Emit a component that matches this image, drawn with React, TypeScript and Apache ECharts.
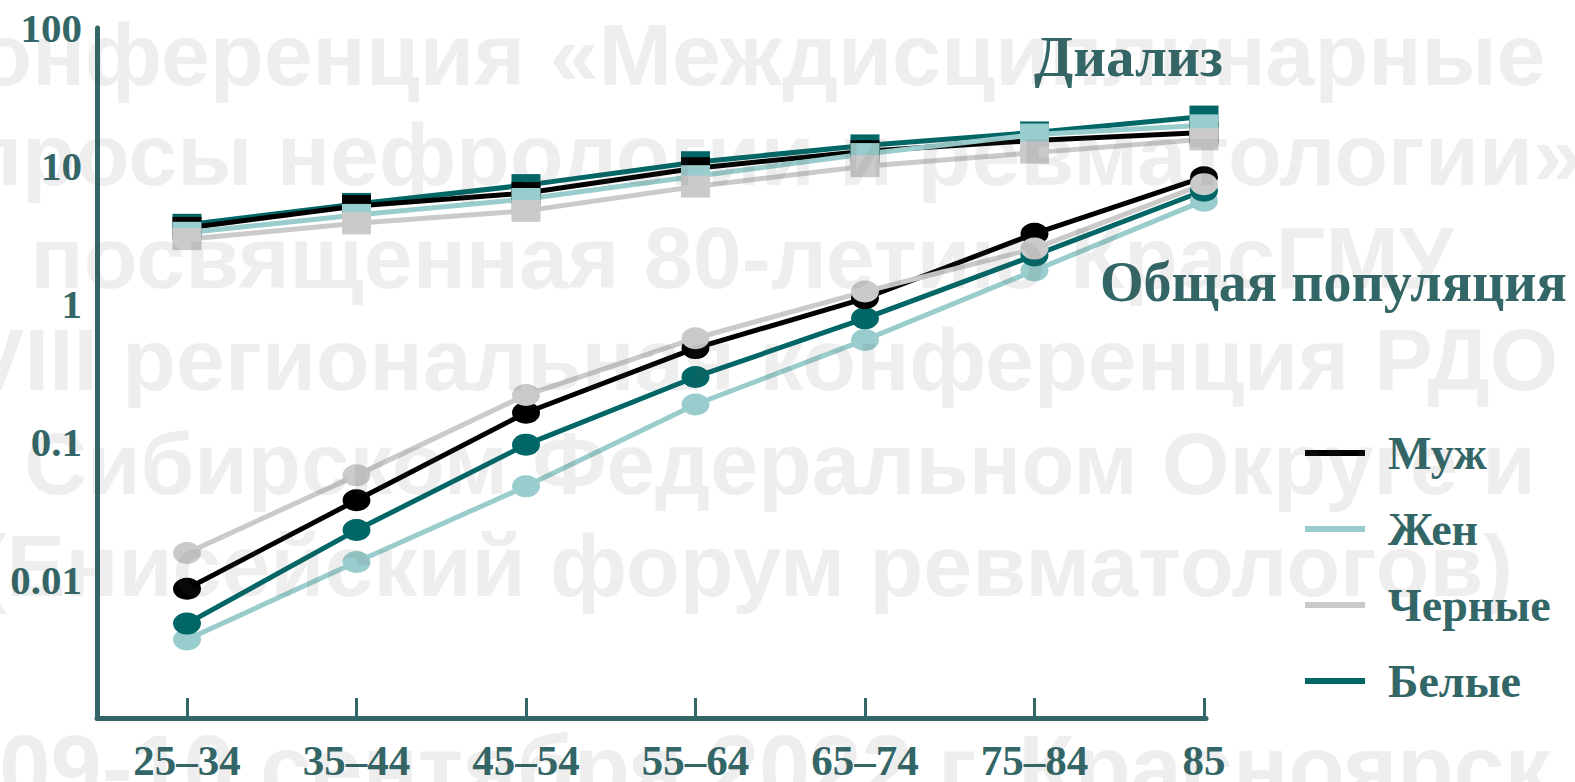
import React, { useEffect, useRef } from "react";
import * as echarts from "echarts";

const categories = ["25–34", "35–44", "45–54", "55–64", "65–74", "75–84", "85"];
const seriesNames = ["Муж", "Жен", "Черные", "Белые"];
const yTickLabels = ["100", "10", "1", "0.1", "0.01"];

// Диализ (squares)
const dialMen = [3.56, 5.13, 6.37, 9.64, 12.8, 15.3, 17.5];
const dialWomen = [3.28, 4.42, 5.77, 8.44, 12.2, 16.9, 19.7];
const dialBlack = [2.95, 3.84, 4.73, 7.1, 9.97, 12.5, 15.6];
const dialWhite = [3.75, 5.31, 7.27, 10.65, 14.1, 17.5, 22.8];

// Общая популяция (circles)
const genMen = [0.00865, 0.0378, 0.163, 0.479, 1.1, 3.23, 8.3];
const genWomen = [0.00371, 0.0135, 0.0477, 0.187, 0.549, 1.75, 5.61];
const genBlack = [0.0157, 0.0573, 0.219, 0.565, 1.23, 2.52, 7.39];
const genWhite = [0.00483, 0.023, 0.0957, 0.296, 0.787, 2.25, 6.62];

const watermarkLines = [
  "Конференция «Междисциплинарные",
  "вопросы нефрологии и ревматологии»",
  "посвященная 80-летию КрасГМУ",
  "VIII региональная конференция РДО",
  "Сибирском Федеральном Округе и",
  "(Енисейский форум ревматологов)",
  "09-10 сентября 2022 г. Красноярск",
];

const TEXT = "#336666";
const COLORS: Record<string, string> = {
  "Муж": "#000000",
  "Жен": "#99CCCC",
  "Черные": "#CACACA",
  "Белые": "#006666",
};

export default function App() {
  const ref = useRef<HTMLDivElement>(null);
  useEffect(() => {
    if (!ref.current) return;
    const chart = echarts.init(ref.current, undefined, { renderer: "svg" });
    const toPts = (arr: number[]) => arr.map((v, i) => [i, v]);
    const mk = (name: string, data: number[], symbol: string, size: number[]) => ({
      type: "line",
      name,
      data: toPts(data),
      symbol,
      symbolSize: size,
      showSymbol: true,
      lineStyle: { width: 5, color: COLORS[name] },
      itemStyle: { color: COLORS[name] },
      emphasis: { disabled: true },
    });
    const serif = '"Liberation Serif", "Times New Roman", serif';
    const wmY = [54, 154, 257, 359, 463, 565, 768];
    const wmX = [735, 722, 742, 762, 780, 745, 775];
    const wmSize = [88, 88, 88, 88, 87, 88, 92];
    chart.setOption({
      animation: false,
      backgroundColor: "#ffffff",
      grid: { left: 97, right: 369, top: 28, bottom: 60, containLabel: false },
      xAxis: {
        type: "value",
        min: -0.531,
        max: 6.012,
        axisLine: { show: true, onZero: false, lineStyle: { color: TEXT, width: 5 } },
        axisTick: {
          show: true,
          inside: true,
          length: 20,
          lineStyle: { color: TEXT, width: 3 },
          customValues: [0, 1, 2, 3, 4, 5, 6],
        },
        axisLabel: {
          customValues: [0, 1, 2, 3, 4, 5, 6],
          formatter: (v: number) => categories[Math.round(v)] ?? "",
          color: TEXT,
          fontFamily: serif,
          fontWeight: "bold",
          fontSize: 43,
          margin: 21,
        },
        splitLine: { show: false },
      },
      yAxis: {
        type: "log",
        logBase: 10,
        min: 0.001,
        max: 100,
        axisLine: { show: true, onZero: false, lineStyle: { color: TEXT, width: 5 } },
        axisTick: { show: false },
        splitLine: { show: false },
        axisLabel: {
          showMinLabel: false,
          formatter: (v: number) => {
            const e = Math.round(Math.log10(v));
            const idx = 2 - e;
            return yTickLabels[idx] ?? "";
          },
          color: TEXT,
          fontFamily: serif,
          fontWeight: "bold",
          fontSize: 41,
          margin: 15,
        },
      },
      legend: {
        data: seriesNames,
        orient: "vertical",
        left: 1300,
        top: 424,
        icon: "rect",
        itemWidth: 60,
        itemHeight: 6,
        itemGap: 28,
        selectedMode: false,
        textStyle: {
          color: TEXT,
          fontFamily: serif,
          fontWeight: "bold",
          fontSize: 46,
          lineHeight: 48,
          padding: [0, 0, 0, 18],
        },
      },
      series: [
        mk("Белые", dialWhite, "rect", [29, 22]),
        mk("Муж", dialMen, "rect", [29, 22]),
        mk("Жен", dialWomen, "rect", [29, 22]),
        mk("Черные", dialBlack, "rect", [29, 22]),
        mk("Жен", genWomen, "circle", [28, 22]),
        mk("Белые", genWhite, "circle", [28, 22]),
        mk("Муж", genMen, "circle", [28, 22]),
        mk("Черные", genBlack, "circle", [28, 22]),
      ],
      graphic: [
        {
          type: "text",
          left: 1034,
          top: 28,
          z: 50,
          style: {
            text: "Диализ",
            fill: TEXT,
            font: `bold 57px ${serif}`,
          },
        },
        {
          type: "text",
          left: 1100,
          top: 254,
          z: 50,
          style: {
            text: "Общая популяция",
            fill: TEXT,
            font: `bold 56px ${serif}`,
          },
        },
        ...watermarkLines.map((t, i) => ({
          type: "text",
          x: wmX[i],
          y: wmY[i],
          z: 100,
          silent: true,
          style: {
            text: t,
            fill: "rgba(90,90,90,0.1)",
            font: `bold ${wmSize[i]}px "Liberation Sans", Arial, sans-serif`,
            textAlign: "center",
            textVerticalAlign: "middle",
          },
        })),
      ],
    });
    return () => chart.dispose();
  }, []);
  return (
    <div
      ref={ref}
      style={{ position: "fixed", left: 0, top: 0, width: 1575, height: 782 }}
    />
  );
}
